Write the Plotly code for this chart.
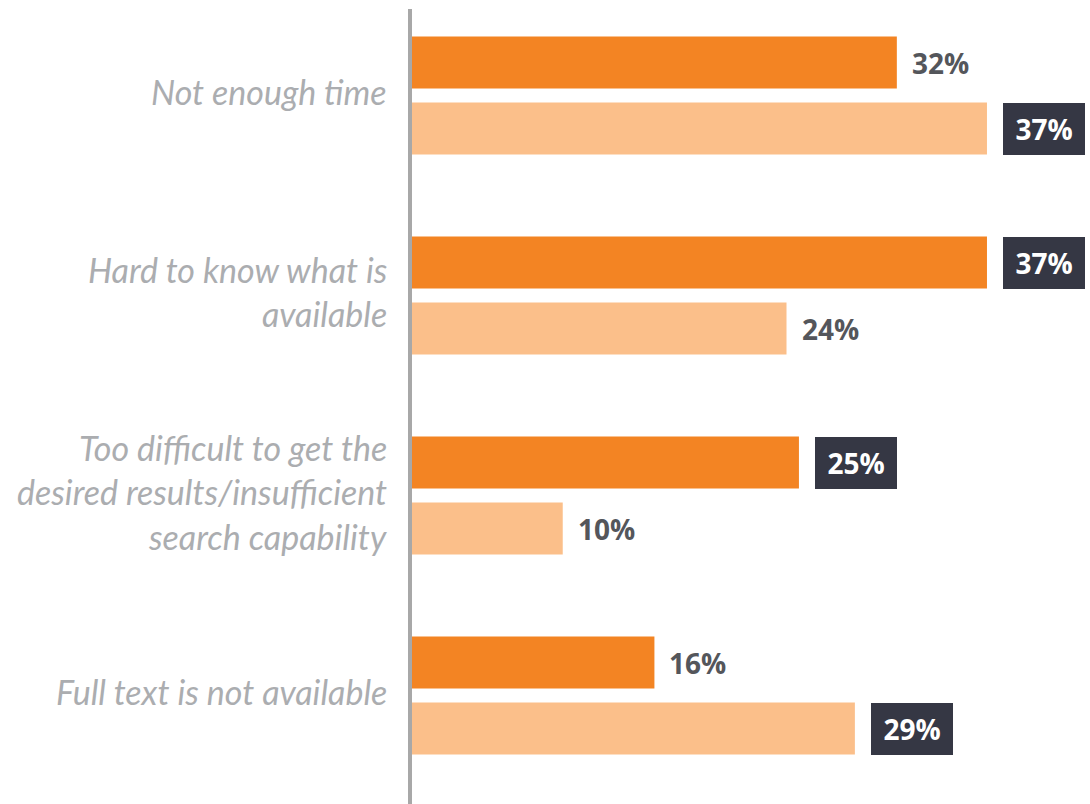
import plotly.graph_objects as go

# ---- data ----
categories = [
    "Not enough time",
    "Hard to know what is<br>available",
    "Too difficult to get the<br>desired results/insufficient<br>search capability",
    "Full text is not available",
]
series_dark_values = [31.2, 37.0, 24.9, 15.6]
series_dark_labels = ["32%", "37%", "25%", "16%"]
series_light_values = [37.0, 24.1, 9.7, 28.5]
series_light_labels = ["37%", "24%", "10%", "29%"]

# ---- style ----
DARK = "#f38423"
LIGHT = "#fbbf8a"
BOX = "#353744"
VAL_GRAY = "#54565b"
CAT_GRAY = "#abadb0"
AXIS_GRAY = "#a8a8a8"

ycats = [c.replace("<br>", " ") for c in categories]

fig = go.Figure()
fig.add_trace(go.Bar(y=ycats, x=series_dark_values, orientation="h",
                     marker=dict(color=DARK, line=dict(width=0)), name="A"))
fig.add_trace(go.Bar(y=ycats, x=series_light_values, orientation="h",
                     marker=dict(color=LIGHT, line=dict(width=0)), name="B"))

annotations = []
# category labels, one annotation per line for wider line spacing
for cat, label in zip(ycats, categories):
    lines = label.split("<br>")
    n = len(lines)
    for k, line in enumerate(lines):
        annotations.append(dict(
            x=0, xref="paper", y=cat, yref="y", text=line, showarrow=False,
            xanchor="right", yanchor="middle", xshift=-23,
            yshift=((n - 1) / 2 - k) * 44.5 + 4,
            font=dict(family="Lato", size=34, color=CAT_GRAY, style="italic"),
        ))

# value labels
def _num(s):
    return float(s.rstrip("%"))

for i, cat in enumerate(ycats):
    pair = [(series_dark_values[i], series_dark_labels[i], 33),
            (series_light_values[i], series_light_labels[i], -33)]
    top = max(_num(series_dark_labels[i]), _num(series_light_labels[i]))
    for val, lab, ysh in pair:
        boxed = _num(lab) == top
        if boxed:
            annotations.append(dict(
                x=val, y=cat, xref="x", yref="y", text=lab, showarrow=False,
                xanchor="left", yanchor="middle", xshift=16, yshift=ysh,
                width=82, height=52, bgcolor=BOX, borderwidth=0, borderpad=0,
                align="center",
                font=dict(family="Open Sans", size=28, color="white", weight="bold"),
            ))
        else:
            annotations.append(dict(
                x=val, y=cat, xref="x", yref="y", text=lab, showarrow=False,
                xanchor="left", yanchor="middle", xshift=15, yshift=ysh,
                borderwidth=0, borderpad=0,
                font=dict(family="Open Sans", size=28, color=VAL_GRAY, weight="bold"),
            ))

fig.update_layout(
    width=1090, height=804,
    margin=dict(l=412, r=0, t=9, b=0),
    paper_bgcolor="white", plot_bgcolor="white",
    barmode="group", bargap=0.34, bargroupgap=0.212,
    showlegend=False,
    annotations=annotations,
    xaxis=dict(range=[0, 43.63], visible=False, showgrid=False, zeroline=False),
    yaxis=dict(range=[3.5425, -0.4325], showticklabels=False, ticks="",
               showgrid=False, zeroline=False, showline=True,
               linecolor=AXIS_GRAY, linewidth=4),
)

fig.write_html("out.html")
